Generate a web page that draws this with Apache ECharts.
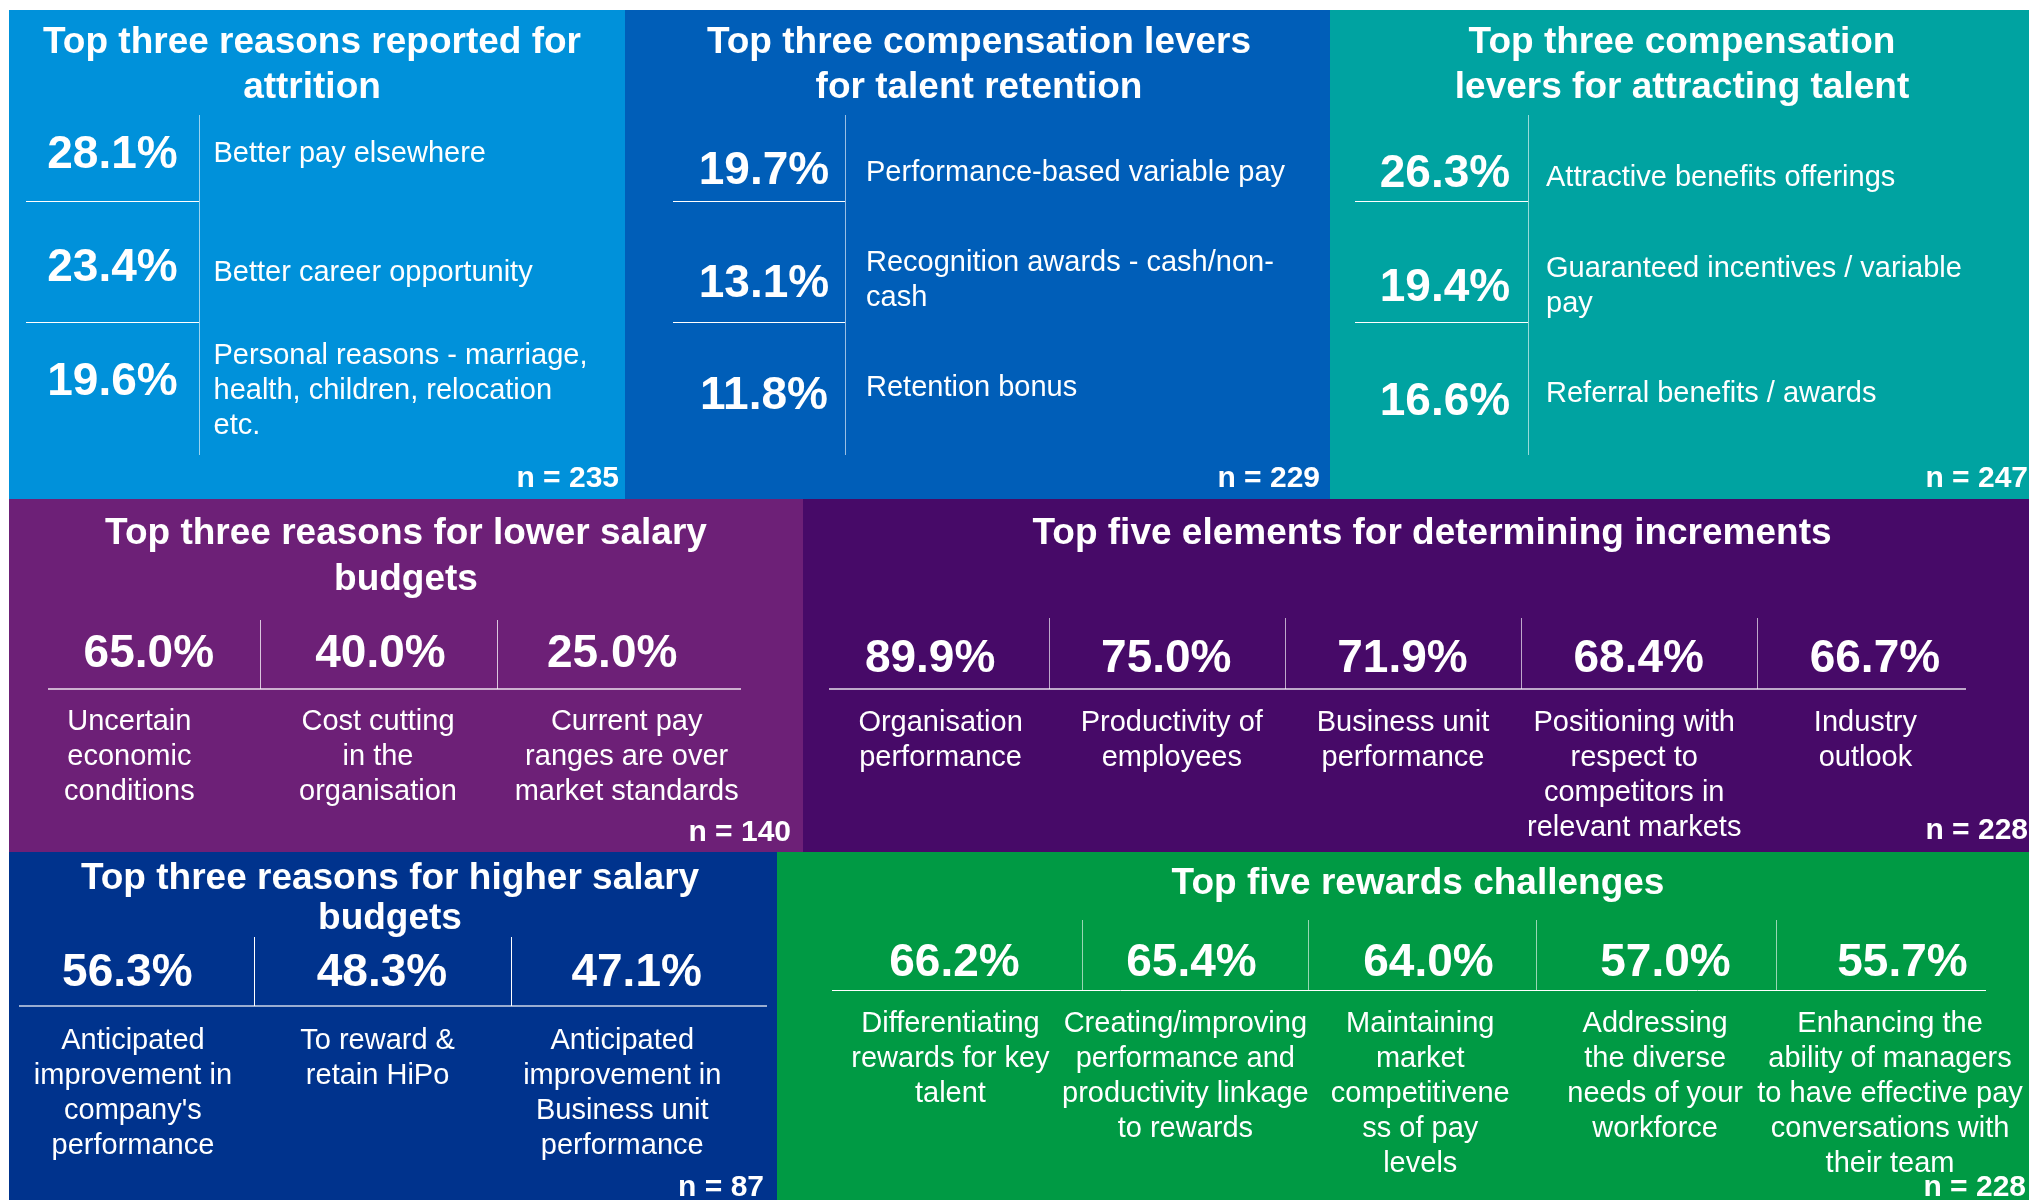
<!DOCTYPE html>
<html>
<head>
<meta charset="utf-8">
<title>Rewards survey highlights</title>
<script src="https://cdn.jsdelivr.net/npm/echarts@6/dist/echarts.min.js"></script>
<style>
  html, body { margin: 0; padding: 0; background: #fff; }
  #chart { width: 2029px; height: 1200px; }
</style>
</head>
<body>
<div id="chart"></div>
<script>
// ---- data ----
const panelTitles = [
  'Top three reasons reported for\nattrition',
  'Top three compensation levers\nfor talent retention',
  'Top three compensation\nlevers for attracting talent',
  'Top three reasons for lower salary\nbudgets',
  'Top five elements for determining increments',
  'Top three reasons for higher salary\nbudgets',
  'Top five rewards challenges'
]
const sampleSizes = [235, 229, 247, 140, 228, 87, 228]

const attritionReasons = [
  'Better pay elsewhere',
  'Better career opportunity',
  'Personal reasons - marriage,\nhealth, children, relocation\netc.'
]
const attritionPct = [28.1, 23.4, 19.6]

const retentionLevers = [
  'Performance-based variable pay',
  'Recognition awards - cash/non-\ncash',
  'Retention bonus'
]
const retentionPct = [19.7, 13.1, 11.8]

const attractionLevers = [
  'Attractive benefits offerings',
  'Guaranteed incentives / variable\npay',
  'Referral benefits / awards'
]
const attractionPct = [26.3, 19.4, 16.6]

const lowerBudgetReasons = [
  'Uncertain\neconomic\nconditions',
  'Cost cutting\nin the\norganisation',
  'Current pay\nranges are over\nmarket standards'
]
const lowerBudgetPct = [65.0, 40.0, 25.0]

const incrementElements = [
  'Organisation\nperformance',
  'Productivity of\nemployees',
  'Business unit\nperformance',
  'Positioning with\nrespect to\ncompetitors in\nrelevant markets',
  'Industry\noutlook'
]
const incrementPct = [89.9, 75.0, 71.9, 68.4, 66.7]

const higherBudgetReasons = [
  'Anticipated\nimprovement in\ncompany\'s\nperformance',
  'To reward &\nretain HiPo',
  'Anticipated\nimprovement in\nBusiness unit\nperformance'
]
const higherBudgetPct = [56.3, 48.3, 47.1]

const rewardChallenges = [
  'Differentiating\nrewards for key\ntalent',
  'Creating/improving\nperformance and\nproductivity linkage\nto rewards',
  'Maintaining\nmarket\ncompetitivene\nss of pay\nlevels',
  'Addressing\nthe diverse\nneeds of your\nworkforce',
  'Enhancing the\nability of managers\nto have effective pay\nconversations with\ntheir team'
]
const rewardPct = [66.2, 65.4, 64.0, 57.0, 55.7]

// ---- layout ----
const FONT = "'Liberation Sans', Arial, Helvetica, sans-serif"

// pctGrid places the big figures, textGrid places the descriptions
const panels = [
  {
    names: attritionReasons, values: attritionPct, kind: 'rows',
    fill: '#0091DA', box: [9, 10, 616, 489],
    titleX: 312, titleY: 20, titleLH: 45, nX: 619, nY: 479,
    pctGrid: { left: 26, top: 98.5, width: 173, height: 340 },
    textGrid: { left: 26, top: 94.75, width: 173, height: 355.5 }, dx: 101, dy: 0,
    vLines: [[199, 115, 455]], hLines: [[26, 199, 201], [26, 199, 322]],
    vStroke: 'rgba(255,255,255,0.6)', hStroke: '#ffffff', hWidth: 1
  },
  {
    names: retentionLevers, values: retentionPct, kind: 'rows',
    fill: '#005EB8', box: [625, 10, 705, 489],
    titleX: 979, titleY: 20, titleLH: 45, nX: 1320, nY: 479,
    pctGrid: { left: 678, top: 115, width: 172, height: 338 },
    textGrid: { left: 678, top: 119.3, width: 172, height: 322.5 }, dx: 102, dy: 0,
    vLines: [[845, 115, 455]], hLines: [[673, 845, 201], [673, 845, 322]],
    vStroke: 'rgba(255,255,255,0.6)', hStroke: '#ffffff', hWidth: 1
  },
  {
    names: attractionLevers, values: attractionPct, kind: 'rows',
    fill: '#00A3A1', box: [1330, 10, 699, 489],
    titleX: 1682, titleY: 20, titleLH: 45, nX: 2028, nY: 479,
    pctGrid: { left: 1359, top: 117.2, width: 172, height: 342 },
    textGrid: { left: 1359, top: 123.8, width: 172, height: 324.5 }, dx: 101, dy: 0,
    vLines: [[1528, 115, 455]], hLines: [[1355, 1528, 201], [1355, 1528, 322]],
    vStroke: 'rgba(255,255,255,0.6)', hStroke: '#ffffff', hWidth: 1
  },
  {
    names: lowerBudgetReasons, values: lowerBudgetPct, kind: 'cols',
    fill: '#6D2077', box: [9, 499, 794, 353],
    titleX: 406, titleY: 511, titleLH: 46, nX: 791, nY: 833,
    pctGrid: { left: 33, top: 624.6, width: 695, height: 60 },
    textGrid: { left: 5, top: 624.6, width: 746, height: 60 }, dx: 0, dy: 50,
    vLines: [[260, 620, 689], [497, 620, 689]], hLines: [[48, 741, 689]],
    vStroke: 'rgba(255,255,255,0.75)', hStroke: 'rgba(255,255,255,0.65)', hWidth: 2
  },
  {
    names: incrementElements, values: incrementPct, kind: 'cols',
    fill: '#470A68', box: [803, 499, 1226, 353],
    titleX: 1432, titleY: 511, titleLH: 46, nX: 2028, nY: 831,
    pctGrid: { left: 812, top: 629.6, width: 1181, height: 60 },
    textGrid: { left: 825, top: 629.6, width: 1156, height: 60 }, dx: 0, dy: 46,
    vLines: [[1049, 618, 689], [1285, 618, 689], [1521, 618, 689], [1757, 618, 689]],
    hLines: [[829, 1966, 689]],
    vStroke: 'rgba(255,255,255,0.65)', hStroke: 'rgba(255,255,255,0.65)', hWidth: 2
  },
  {
    names: higherBudgetReasons, values: higherBudgetPct, kind: 'cols',
    fill: '#00338D', box: [9, 852, 768, 348],
    titleX: 390, titleY: 859, titleLH: 40, nX: 764, nY: 1188,
    pctGrid: { left: 0, top: 943, width: 764, height: 60 },
    textGrid: { left: 10.6, top: 943, width: 734, height: 60 }, dx: 0, dy: 50.5,
    vLines: [[254, 937, 1006], [511, 937, 1006]], hLines: [[19, 767, 1006]],
    vStroke: '#ffffff', hStroke: 'rgba(255,255,255,0.6)', hWidth: 2
  },
  {
    names: rewardChallenges, values: rewardPct, kind: 'cols',
    fill: '#009A44', box: [777, 852, 1252, 348],
    titleX: 1418, titleY: 864, titleLH: 40, nX: 2026, nY: 1188,
    pctGrid: { left: 836, top: 933, width: 1185, height: 60 },
    textGrid: { left: 833, top: 933, width: 1174.5, height: 60 }, dx: 0, dy: 43,
    vLines: [[1082, 920, 990], [1308, 920, 990], [1536, 920, 990], [1776, 920, 990]],
    hLines: [[832, 1986, 990]],
    vStroke: 'rgba(255,255,255,0.6)', hStroke: '#ffffff', hWidth: 1
  }
]

// ---- build option ----
const grids = []
const xAxes = []
const yAxes = []
const series = []
const graphics = []

function addAxes(p, gridIndex) {
  const indexCats = p.names.map((n, i) => i)
  if (p.kind === 'rows') {
    xAxes.push({ type: 'category', gridIndex: gridIndex, data: ['pct'], show: false })
    yAxes.push({ type: 'category', gridIndex: gridIndex, data: indexCats, inverse: true, show: false })
  } else {
    xAxes.push({ type: 'category', gridIndex: gridIndex, data: indexCats, show: false })
    yAxes.push({ type: 'category', gridIndex: gridIndex, data: ['pct'], show: false })
  }
}

panels.forEach((p, k) => {
  const pctIdx = grids.length
  grids.push(Object.assign({ outerBoundsMode: 'none' }, p.pctGrid))
  addAxes(p, pctIdx)
  const textIdx = grids.length
  grids.push(Object.assign({ outerBoundsMode: 'none' }, p.textGrid))
  addAxes(p, textIdx)

  const items = p.values.map((v, i) => ({
    name: p.names[i],
    value: p.kind === 'rows' ? [0, i, v] : [i, 0, v]
  }))

  const base = {
    type: 'scatter',
    symbolSize: 1,
    itemStyle: { color: 'rgba(0,0,0,0)', opacity: 1 },
    emphasis: { disabled: true },
    silent: true,
    z: 5,
    data: items
  }

  // percentage figure
  series.push(Object.assign({}, base, {
    name: 'pct' + k,
    xAxisIndex: pctIdx,
    yAxisIndex: pctIdx,
    label: {
      show: true,
      position: 'inside',
      formatter: prm => prm.value[2].toFixed(1) + '%',
      color: '#ffffff',
      opacity: 1,
      textBorderWidth: 0,
      fontFamily: FONT,
      fontSize: 46,
      fontWeight: 'bold',
      align: 'center',
      verticalAlign: 'middle'
    }
  }))

  // description text
  series.push(Object.assign({}, base, {
    name: 'text' + k,
    xAxisIndex: textIdx,
    yAxisIndex: textIdx,
    label: {
      show: true,
      position: 'inside',
      formatter: prm => prm.name,
      color: '#ffffff',
      opacity: 1,
      textBorderWidth: 0,
      fontFamily: FONT,
      fontSize: 29,
      lineHeight: 35,
      align: p.kind === 'rows' ? 'left' : 'center',
      verticalAlign: p.kind === 'rows' ? 'middle' : 'top',
      offset: [p.dx, p.dy]
    }
  }))

  // panel background
  graphics.push({
    type: 'rect', z: 0, silent: true,
    shape: { x: p.box[0], y: p.box[1], width: p.box[2], height: p.box[3] },
    style: { fill: p.fill }
  })

  // divider lines
  p.vLines.forEach(l => {
    graphics.push({
      type: 'line', z: 1, silent: true,
      shape: { x1: l[0] + 0.5, y1: l[1], x2: l[0] + 0.5, y2: l[2] },
      style: { stroke: p.vStroke, lineWidth: 1 }
    })
  })
  p.hLines.forEach(l => {
    const off = p.hWidth === 1 ? 0.5 : 0
    graphics.push({
      type: 'line', z: 1, silent: true,
      shape: { x1: l[0], y1: l[2] + off, x2: l[1], y2: l[2] + off },
      style: { stroke: p.hStroke, lineWidth: p.hWidth }
    })
  })

  // title
  graphics.push({
    type: 'text', z: 10, silent: true,
    x: p.titleX, y: p.titleY,
    style: {
      text: panelTitles[k],
      fill: '#ffffff',
      fontFamily: FONT,
      fontSize: 37,
      fontWeight: 'bold',
      lineHeight: p.titleLH,
      align: 'center',
      verticalAlign: 'top'
    }
  })

  // sample size
  graphics.push({
    type: 'text', z: 10, silent: true,
    x: p.nX, y: p.nY,
    style: {
      text: 'n = ' + sampleSizes[k],
      fill: '#ffffff',
      fontFamily: FONT,
      fontSize: 30,
      fontWeight: 'bold',
      align: 'right',
      verticalAlign: 'middle'
    }
  })
})

const chart = echarts.init(document.getElementById('chart'))
chart.setOption({
  backgroundColor: '#ffffff',
  animation: false,
  tooltip: { show: false },
  grid: grids,
  xAxis: xAxes,
  yAxis: yAxes,
  series: series,
  graphic: { elements: graphics }
})

window.addEventListener('resize', () => {
  chart.resize()
})
</script>
</body>
</html>
